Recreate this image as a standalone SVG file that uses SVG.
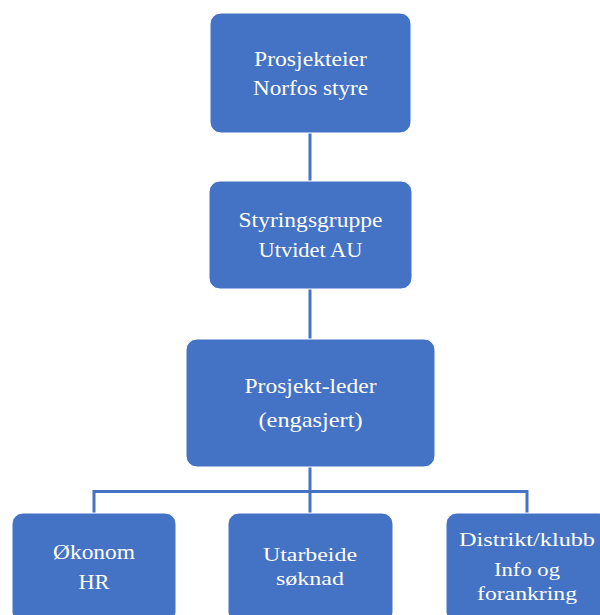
<svg xmlns="http://www.w3.org/2000/svg" width="600" height="615" viewBox="0 0 600 615">
<style>
.box{fill:#4472C4;stroke:#ffffff;stroke-width:1}
.t{font-family:"Liberation Serif","Times New Roman",serif;fill:#ffffff;text-anchor:middle}
.a{font-size:22px}
.b{font-size:21px}
.c{font-size:19px}
.ln{stroke:#4472C4;stroke-width:3;fill:none}
</style>
<rect width="600" height="615" fill="#ffffff"/>
<g id="connectors">
<line class="ln" x1="310" y1="133" x2="310" y2="181"/>
<line class="ln" x1="310" y1="289" x2="310" y2="339"/>
<line class="ln" x1="310" y1="467" x2="310" y2="513"/>
<polyline class="ln" points="94,513 94,491.5 527,491.5 527,513"/>
</g>
<g id="prosjekteier">
<rect class="box" x="210" y="13" width="201" height="120" rx="11"/>
<text class="t a" x="310.5" y="66" textLength="113" lengthAdjust="spacingAndGlyphs">Prosjekteier</text>
<text class="t a" x="310.5" y="95" textLength="115" lengthAdjust="spacingAndGlyphs">Norfos styre</text>
</g>
<g id="styringsgruppe">
<rect class="box" x="209" y="181" width="203" height="108" rx="11"/>
<text class="t a" x="310.5" y="227" textLength="144" lengthAdjust="spacingAndGlyphs">Styringsgruppe</text>
<text class="t a" x="310.5" y="257" textLength="104" lengthAdjust="spacingAndGlyphs">Utvidet AU</text>
</g>
<g id="prosjektleder">
<rect class="box" x="186" y="339" width="249" height="128" rx="11"/>
<text class="t a" x="310.5" y="393" textLength="132" lengthAdjust="spacingAndGlyphs">Prosjekt-leder</text>
<text class="t a" x="310.5" y="427" textLength="104" lengthAdjust="spacingAndGlyphs">(engasjert)</text>
</g>
<g id="okonom">
<rect class="box" x="12" y="513" width="164" height="110" rx="11"/>
<text class="t b" x="94" y="559" textLength="82" lengthAdjust="spacingAndGlyphs">Økonom</text>
<text class="t b" x="94" y="589" textLength="31" lengthAdjust="spacingAndGlyphs">HR</text>
</g>
<g id="utarbeide">
<rect class="box" x="228" y="513" width="165" height="110" rx="11"/>
<text class="t c" x="310" y="561" textLength="94" lengthAdjust="spacingAndGlyphs">Utarbeide</text>
<text class="t c" x="310" y="585" textLength="68" lengthAdjust="spacingAndGlyphs">søknad</text>
</g>
<g id="distrikt">
<rect class="box" x="446" y="513" width="164" height="110" rx="11"/>
<text class="t c" x="527" y="546" textLength="136" lengthAdjust="spacingAndGlyphs">Distrikt/klubb</text>
<text class="t c" x="527" y="576" textLength="66" lengthAdjust="spacingAndGlyphs">Info og</text>
<text class="t c" x="527" y="600" textLength="100" lengthAdjust="spacingAndGlyphs">forankring</text>
</g>
</svg>
